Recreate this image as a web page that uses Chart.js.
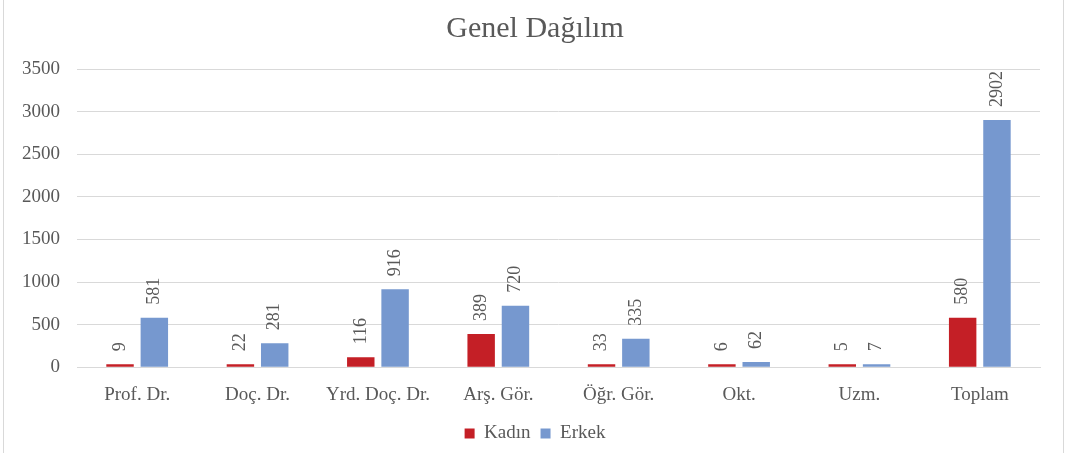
<!DOCTYPE html>
<html>
<head>
<meta charset="utf-8">
<script src="https://cdn.jsdelivr.net/npm/chart.js@4"></script>
<style>
  html, body { margin: 0; padding: 0; background: #fff; }
  #wrap { position: relative; width: 1066px; height: 453px; }
</style>
</head>
<body>
<div id="wrap"><canvas id="genelChart"></canvas></div>
<script>
// --- Data ---
const categories = ['Prof. Dr.', 'Doç. Dr.', 'Yrd. Doç. Dr.', 'Arş. Gör.', 'Öğr. Gör.', 'Okt.', 'Uzm.', 'Toplam'];
const kadin = [9, 22, 116, 389, 33, 6, 5, 580];
const erkek = [581, 281, 916, 720, 335, 62, 7, 2902];
const yTicks = [0, 500, 1000, 1500, 2000, 2500, 3000, 3500];

const textColor = '#595959';
const serif = "'Liberation Serif', 'Times New Roman', serif";

// rotated value labels above every bar
const barLabels = {
    id: 'barLabels',
    afterDatasetsDraw(chart) {
        const ctx = chart.ctx;
        ctx.save();
        ctx.fillStyle = textColor;
        ctx.font = '18px ' + serif;
        ctx.textAlign = 'left';
        ctx.textBaseline = 'middle';
        chart.data.datasets.forEach((ds, di) => {
            const meta = chart.getDatasetMeta(di);
            meta.data.forEach((bar, i) => {
                ctx.save();
                ctx.translate(bar.x, bar.y - 13);
                ctx.rotate(-Math.PI / 2);
                ctx.fillText(String(ds.data[i]), 0, 0);
                ctx.restore();
            });
        });
        ctx.restore();
    }
};

// faint frame lines at the left and right edge
const frame = {
    id: 'frame',
    beforeDraw(chart) {
        const ctx = chart.ctx;
        ctx.save();
        ctx.strokeStyle = '#d9d9d9';
        ctx.lineWidth = 1;
        ctx.beginPath();
        ctx.moveTo(3.5, 0); ctx.lineTo(3.5, chart.height);
        ctx.moveTo(1063.5, 0); ctx.lineTo(1063.5, chart.height);
        ctx.stroke();
        ctx.restore();
    }
};

const config = {
    type: 'bar',
    data: {
        labels: categories,
        datasets: [
            {
                label: 'Kadın',
                data: kadin,
                backgroundColor: '#c41f26',
                barPercentage: 0.8,
                categoryPercentage: 0.57,
                minBarLength: 3
            },
            {
                label: 'Erkek',
                data: erkek,
                backgroundColor: '#7698cf',
                barPercentage: 0.8,
                categoryPercentage: 0.57,
                minBarLength: 3
            }
        ]
    },
    options: {
        responsive: true,
        maintainAspectRatio: false,
        animation: false,
        layout: { padding: { left: 4, right: 0, top: 5, bottom: 0 } },
        plugins: {
            title: {
                display: true,
                text: 'Genel Dağılım',
                color: textColor,
                font: { family: serif, size: 30, weight: 'normal' },
                padding: { top: 6, bottom: 22 }
            },
            legend: {
                position: 'bottom',
                labels: {
                    color: textColor,
                    font: { family: serif, size: 19 },
                    boxWidth: 10,
                    boxHeight: 10,
                    padding: 10
                }
            },
            tooltip: { enabled: false }
        },
        scales: {
            y: {
                min: 0,
                max: 3500,
                afterBuildTicks(axis) {
                    axis.ticks = yTicks.map(v => ({ value: v }));
                },
                afterFit(axis) {
                    axis.width = 73;
                },
                ticks: {
                    color: textColor,
                    font: { family: serif, size: 19 },
                    padding: 17,
                    callback: v => String(v)
                },
                grid: { color: '#d9d9d9', drawTicks: false },
                border: { display: false }
            },
            // empty spacer on the right so title and legend stay centred
            yRight: {
                position: 'right',
                display: true,
                afterFit(axis) {
                    axis.width = 26;
                },
                ticks: { display: false },
                grid: { display: false },
                border: { display: false }
            },
            x: {
                grid: { display: false },
                border: { color: '#d9d9d9' },
                ticks: {
                    color: textColor,
                    font: { family: serif, size: 19 },
                    padding: 8
                }
            }
        }
    },
    plugins: [barLabels, frame]
};

const genelChart = new Chart(document.getElementById('genelChart'), config);
</script>
</body>
</html>
